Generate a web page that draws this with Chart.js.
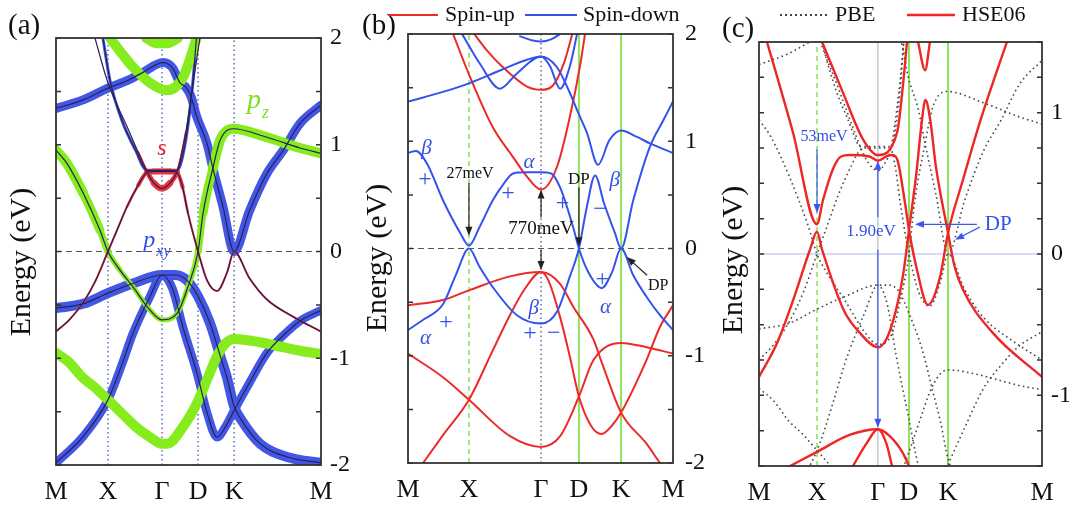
<!DOCTYPE html>
<html>
<head>
<meta charset="utf-8">
<title>Band structures</title>
<script src="https://cdn.jsdelivr.net/npm/chart.js@4.4.1/dist/chart.umd.min.js"></script>
<style>
  html, body { margin: 0; padding: 0; background: #ffffff; overflow: hidden; }
  canvas { position: absolute; top: 0; }
</style>
</head>
<body>
<canvas id="bandsA" width="355" height="505" style="left:0px"></canvas>
<canvas id="bandsB" width="355" height="505" style="left:355px"></canvas>
<canvas id="bandsC" width="359" height="505" style="left:710px"></canvas>
<script>
// k-path labels and where each high-symmetry point sits on the three axes
const kLabels = ['M', 'X', 'Γ', 'D', 'K', 'M'];
const kNodesA = [0, 0.196, 0.40, 0.536, 0.672, 1];
const kNodesB = [0, 0.23, 0.502, 0.645, 0.804, 1];
const kNodesC = [0, 0.205, 0.42, 0.53, 0.668, 1];
const yLabelsAB = [-2, -1, 0, 1, 2];
const yLabelsC = [-1, 0, 1];

// PBE bands, [k, E(eV), orbital weight] on the (a) k-axis
const pbePzLow = [[0,-0.95],[0.05,-1.04],[0.10,-1.18],[0.15,-1.28],[0.196,-1.39],[0.25,-1.52],[0.30,-1.64],[0.355,-1.74],[0.40,-1.80],[0.42,-1.80],[0.48,-1.64],[0.536,-1.40],[0.575,-1.17],[0.608,-0.98],[0.64,-0.86],[0.672,-0.82],[0.77,-0.85],[0.845,-0.89],[0.92,-0.93],[1,-0.96]];
const pbePzUp = [[0,0.95,1],[0.04,0.83,1],[0.102,0.55,1],[0.166,0.2,0.8],[0.196,0,0.6],[0.24,-0.17,0.5],[0.29,-0.33,0.5],[0.355,-0.55,0.5],[0.40,-0.64,0.5],[0.457,-0.58,0.5],[0.498,-0.33,0.5],[0.536,0,0.6],[0.555,0.36,0.8],[0.592,0.78,1],[0.619,1.04,1],[0.668,1.15,1],[0.796,1.07,1],[0.921,0.97,1],[1,0.92,1]];
const pbeSBand = [[0.147,2,0],[0.196,1.58,0],[0.268,1.17,0],[0.31,0.93,0.1],[0.343,0.75,0.4],[0.37,0.64,0.6],[0.40,0.59,0.7],[0.43,0.64,0.6],[0.457,0.75,0.4],[0.49,1.12,0],[0.52,1.62,0],[0.543,2,0]];
const pbeDirac = [[0,-0.75,0.2],[0.05,-0.64,0.2],[0.102,-0.48,0.2],[0.15,-0.27,0.2],[0.196,0,0.2],[0.232,0.21,0.2],[0.268,0.42,0.2],[0.31,0.62,0.3],[0.343,0.74,0.5],[0.37,0.75,0.6],[0.40,0.75,0.6],[0.43,0.75,0.6],[0.457,0.74,0.5],[0.478,0.6,0.3],[0.498,0.36,0.2],[0.536,0,0.2],[0.57,-0.27,0.2],[0.608,-0.37,0.2],[0.645,-0.2,0.2],[0.672,0,0.2],[0.73,-0.25,0.2],[0.796,-0.45,0.2],[0.894,-0.61,0.2],[1,-0.75,0.2]];
const pbeFlat = [[0.177,2,0.3],[0.204,1.6,0.3],[0.25,1.22,0.3],[0.30,0.95,0.3],[0.343,0.76,0.3],[0.40,0.76,0.3],[0.457,0.76,0.3],[0.49,1.05,0.3],[0.515,1.55,0.3],[0.53,2,0.3]];
const pbePxyTop = [[0,1.34],[0.102,1.42],[0.196,1.53],[0.268,1.6],[0.33,1.68],[0.404,1.77],[0.44,1.72],[0.468,1.58],[0.49,1.54],[0.51,1.45],[0.53,1.27],[0.57,1.01],[0.592,0.78],[0.63,0.42],[0.672,0],[0.73,0.38],[0.796,0.73],[0.858,0.95],[0.921,1.2],[1,1.37]];
const pbePzTop = [[0.204,2],[0.25,1.85],[0.29,1.73],[0.355,1.58],[0.419,1.51],[0.479,1.63],[0.517,1.89],[0.53,2]];
const pbePzCap = [[0.34,2],[0.38,1.95],[0.42,1.95],[0.46,2]];
const pbePxyA = [[0,-0.53],[0.102,-0.49],[0.196,-0.39],[0.29,-0.30],[0.40,-0.22],[0.45,-0.22],[0.494,-0.27],[0.536,-0.42],[0.581,-0.67],[0.62,-0.98],[0.645,-1.18],[0.672,-1.45],[0.70,-1.58],[0.77,-1.8],[0.88,-1.93],[1,-1.98]];
const pbePxyB = [[0,-1.98],[0.10,-1.74],[0.196,-1.39],[0.25,-1.05],[0.29,-0.77],[0.355,-0.42],[0.40,-0.22],[0.44,-0.35],[0.479,-0.71],[0.532,-1.14],[0.57,-1.51],[0.608,-1.74],[0.64,-1.64],[0.672,-1.49],[0.73,-1.23],[0.796,-0.95],[0.86,-0.78],[0.921,-0.65],[1,-0.55]];

// spin-polarised bands, [k, E] on the (b) k-axis
const upBand1 = [[0.17,2],[0.234,1.6],[0.32,1.13],[0.397,0.85],[0.449,0.67],[0.502,0.55],[0.562,0.76],[0.611,1.23],[0.649,1.7],[0.668,2]];
const upBand2 = [[0.25,2],[0.30,1.84],[0.358,1.69],[0.449,1.51],[0.502,1.48],[0.547,1.52],[0.59,1.74],[0.62,2]];
const upBand3 = [[0,-0.53],[0.132,-0.48],[0.23,-0.39],[0.385,-0.26],[0.502,-0.22],[0.53,-0.3],[0.574,-0.64],[0.61,-1.0],[0.645,-1.38],[0.69,-1.65],[0.731,-1.73],[0.77,-1.65],[0.804,-1.53],[0.90,-1.04],[0.951,-0.73],[1,-0.53]];
const upBand4 = [[0,-2.2],[0.057,-2],[0.132,-1.74],[0.23,-1.41],[0.32,-0.95],[0.385,-0.62],[0.44,-0.38],[0.502,-0.22],[0.574,-0.33],[0.623,-0.54],[0.70,-0.85],[0.728,-1.04],[0.804,-1.53],[0.90,-1.82],[0.951,-2.0],[1,-2.15]];
const upBand5 = [[0,-0.98],[0.132,-1.2],[0.23,-1.41],[0.385,-1.75],[0.502,-1.85],[0.574,-1.75],[0.645,-1.38],[0.70,-1.04],[0.804,-0.88],[0.90,-0.92],[1,-0.98]];
const dnBand1 = [[0,0.89],[0.03,0.91],[0.072,0.79],[0.132,0.45],[0.196,0.15],[0.23,0.027],[0.27,0.2],[0.32,0.45],[0.36,0.6],[0.397,0.7],[0.45,0.71],[0.50,0.71],[0.54,0.70],[0.574,0.57],[0.623,0.2],[0.645,0],[0.68,-0.22],[0.731,-0.37],[0.77,-0.22],[0.804,0],[0.85,-0.25],[0.90,-0.45],[0.95,-0.62],[1,-0.76]];
const dnBand2 = [[0,-0.76],[0.06,-0.66],[0.132,-0.52],[0.18,-0.25],[0.23,0],[0.27,-0.17],[0.32,-0.36],[0.41,-0.62],[0.502,-0.70],[0.562,-0.59],[0.611,-0.26],[0.645,0],[0.675,0.39],[0.706,0.68],[0.74,0.42],[0.78,0.15],[0.804,0],[0.85,0.45],[0.913,0.95],[0.96,1.18],[1,1.37]];
const dnBand3 = [[0,1.37],[0.132,1.46],[0.23,1.54],[0.347,1.66],[0.449,1.76],[0.502,1.79],[0.562,1.69],[0.611,1.45],[0.638,1.29],[0.675,1.08],[0.717,0.78],[0.76,1.01],[0.804,1.1],[0.864,1.04],[0.913,0.98],[1,0.89]];
const dnBand4 = [[0.204,2],[0.272,1.72],[0.347,1.49],[0.41,1.63],[0.502,1.79],[0.536,1.70],[0.574,1.49],[0.611,1.70],[0.638,2]];
const dnBand5 = [[0.42,1.98],[0.47,1.94],[0.502,1.93],[0.54,1.95],[0.575,2]];

// HSE06 bands, [k, E] on the (c) k-axis
const hseBand1 = [[0,-0.87],[0.064,-0.63],[0.12,-0.33],[0.18,0.03],[0.205,0.157],[0.223,0.03],[0.30,-0.40],[0.357,-0.56],[0.42,-0.66],[0.463,-0.54],[0.509,-0.15],[0.53,0.17],[0.556,0.57],[0.576,0.95],[0.588,1.09],[0.605,0.95],[0.625,0.62],[0.668,0.15],[0.69,-0.08],[0.72,-0.25],[0.827,-0.56],[1,-0.87]];
const hseBand2 = [[0.005,1.66],[0.12,0.86],[0.205,0.21],[0.226,0.38],[0.261,0.6],[0.29,0.69],[0.32,0.70],[0.39,0.69],[0.42,0.66],[0.45,0.69],[0.47,0.70],[0.488,0.67],[0.516,0.36],[0.53,0.17],[0.558,-0.11],[0.597,-0.36],[0.64,-0.16],[0.668,0.15],[0.72,0.52],[0.78,0.93],[0.9,1.64]];
const hseBand3 = [[0.223,1.5],[0.297,1.14],[0.368,0.81],[0.42,0.70],[0.488,0.86],[0.509,1.2],[0.523,1.5]];
const hseBand4 = [[0.562,1.5],[0.587,1.3],[0.604,1.5]];
const hseBand5 = [[0.11,-1.5],[0.205,-1.4],[0.32,-1.28],[0.42,-1.24],[0.463,-1.29],[0.509,-1.41],[0.53,-1.5]];
const hseBand6 = [[0.332,-1.5],[0.38,-1.34],[0.42,-1.24],[0.45,-1.34],[0.47,-1.5]];

const SERIF = "'Liberation Serif', 'Times New Roman', Times, serif";
Chart.defaults.font.family = SERIF;
Chart.defaults.color = '#111';

const C_BLUE_FAT = '#4257e4';
const C_GREEN_FAT = '#86ec1e';
const C_RED_FAT = '#e8323a';
const C_THIN = '#2b2058';
const C_UP = '#ec2a2a';
const C_DOWN = '#3553ec';
const C_GREEN_LINE = '#8fe35c';
const C_PBE = '#4a4a4a';
const C_NOTE_BLUE = '#3450e6';

// piecewise-linear move from one k-axis to another (same path, other spacing)
function remap(k, from, to) {
  for (let i = 1; i < from.length; i++) {
    if (k <= from[i] || i === from.length - 1) {
      const f = (k - from[i - 1]) / (from[i] - from[i - 1]);
      return to[i - 1] + f * (to[i] - to[i - 1]);
    }
  }
}

function pts(band, from, to) {
  return band.map(p => ({ x: from ? remap(p[0], from, to) : p[0], y: p[1] }));
}

function curve(data, color, width, order, extra) {
  return Object.assign({ data, borderColor: color, borderWidth: width, order, clip: 0, pointRadius: 0 }, extra || {});
}

// fat band: line width follows the orbital weight stored with each point
function fat(band, color, scale, order) {
  const w = band.map(p => (p.length > 2 ? p[2] : 1) * scale);
  const seg = c => (w[c.p0DataIndex] + w[c.p1DataIndex]) / 2;
  return curve(pts(band), color, 10 * scale, order, {
    borderCapStyle: 'round',
    borderJoinStyle: 'round',
    segment: {
      borderWidth: c => Math.max(1, seg(c) * 10),
      borderColor: c => (seg(c) > 0.05 ? color : 'rgba(0,0,0,0)')
    }
  });
}

function guide(k, yMin, yMax, st) {
  return curve([{ x: k, y: yMin }, { x: k, y: yMax }], st.color, st.width, 20, { borderDash: st.dash || [], tension: 0, cubicInterpolationMode: 'default' });
}

function zeroLine(st) {
  return curve([{ x: 0, y: 0 }, { x: 1, y: 0 }], st.color, st.width, 19, { borderDash: st.dash || [], tension: 0, cubicInterpolationMode: 'default' });
}

function arrow(ctx, x1, y1, x2, y2, color) {
  const ang = Math.atan2(y2 - y1, x2 - x1), len = 9, half = 3.5;
  ctx.strokeStyle = color;
  ctx.fillStyle = color;
  ctx.lineWidth = 1.2;
  ctx.setLineDash([]);
  ctx.beginPath();
  ctx.moveTo(x1, y1);
  ctx.lineTo(x2 - Math.cos(ang) * len * 0.8, y2 - Math.sin(ang) * len * 0.8);
  ctx.stroke();
  ctx.beginPath();
  ctx.moveTo(x2, y2);
  ctx.lineTo(x2 - len * Math.cos(ang) + half * Math.sin(ang), y2 - len * Math.sin(ang) - half * Math.cos(ang));
  ctx.lineTo(x2 - len * Math.cos(ang) - half * Math.sin(ang), y2 - len * Math.sin(ang) + half * Math.cos(ang));
  ctx.closePath();
  ctx.fill();
}

function label(ctx, n, x, y) {
  ctx.fillStyle = n.color || C_NOTE_BLUE;
  const size = n.size || 21;
  ctx.font = (n.italic ? 'italic ' : '') + size + 'px ' + SERIF;
  ctx.textAlign = n.align || 'center';
  ctx.textBaseline = 'middle';
  ctx.fillText(n.t, x, y);
  if (n.sub) {
    const w = ctx.measureText(n.t).width;
    ctx.font = 'italic ' + Math.round(size * 0.65) + 'px ' + SERIF;
    ctx.textAlign = 'left';
    ctx.fillText(n.sub, x + w / 2 + 1, y + size * 0.45);
  }
}

function makeDeco(cfg) {
  return {
    id: 'deco',
    afterDatasetsDraw(chart) {
      const { ctx, chartArea: a } = chart;
      const sx = chart.scales.x, sy = chart.scales.y;
      const px = k => sx.getPixelForValue(k);
      const py = e => sy.getPixelForValue(e);
      ctx.save();
      // inward tick marks on both frame sides
      ctx.strokeStyle = '#333';
      ctx.lineWidth = 1.5;
      ctx.beginPath();
      sy.ticks.forEach(t => {
        const y = py(t.value);
        ctx.moveTo(a.left, y); ctx.lineTo(a.left + 5, y);
        ctx.moveTo(a.right, y); ctx.lineTo(a.right - 5, y);
      });
      ctx.stroke();
      ctx.lineWidth = 1.8;
      ctx.strokeRect(a.left, a.top, a.right - a.left, a.bottom - a.top);

      (cfg.arrows || []).forEach(r => arrow(ctx, px(r[0]), py(r[1]), px(r[2]), py(r[3]), cfg.arrowColor));
      (cfg.notes || []).forEach(n => label(ctx, n, px(n.k), py(n.e)));

      // rotated energy title on the left
      ctx.save();
      ctx.translate(cfg.titleX, cfg.titleY);
      ctx.rotate(-Math.PI / 2);
      label(ctx, { t: 'Energy (eV)', size: 30, color: '#111' }, 0, 0);
      ctx.restore();

      // panel letter and legend above the frame
      label(ctx, { t: cfg.tag, size: 29, color: '#111', align: 'left' }, cfg.tagX, cfg.tagY);
      (cfg.legend || []).forEach(l => {
        ctx.strokeStyle = l.color;
        ctx.lineWidth = l.width;
        ctx.setLineDash(l.dash || []);
        ctx.beginPath();
        ctx.moveTo(l.x1, l.y); ctx.lineTo(l.x2, l.y);
        ctx.stroke();
        ctx.setLineDash([]);
        label(ctx, { t: l.text, size: 22, color: '#111', align: 'left' }, l.lx, l.y);
      });
      ctx.restore();
    }
  };
}

function buildPanel(id, p) {
  return new Chart(document.getElementById(id), {
    type: 'line',
    data: { datasets: p.datasets },
    options: {
      responsive: false,
      animation: false,
      events: [],
      layout: { padding: { top: p.top, left: p.leftW, right: 0, bottom: 0 } },
      elements: { point: { radius: 0 }, line: { cubicInterpolationMode: 'monotone', fill: false } },
      plugins: { legend: { display: false }, tooltip: { enabled: false } },
      scales: {
        x: {
          type: 'linear', min: 0, max: 1,
          afterBuildTicks: s => { s.ticks = p.nodes.map(v => ({ value: v })); },
          afterFit: s => { s.height = p.bottom; },
          grid: { display: false, drawTicks: false },
          border: { display: false },
          ticks: { autoSkip: false, maxRotation: 0, padding: 12, color: '#111', font: { size: 26 }, callback: (v, i) => kLabels[i] }
        },
        y: {
          type: 'linear', position: 'right', min: p.yMin, max: p.yMax,
          afterFit: s => { s.width = p.rightW; },
          grid: { display: false, drawTicks: false },
          border: { display: false },
          ticks: {
            stepSize: p.yStep, maxTicksLimit: 20, padding: p.labelPad, color: '#111', font: { size: 24 },
            callback: v => (p.yLabels.includes(v) ? String(v) : '')
          }
        }
      }
    },
    plugins: [makeDeco(p.deco)]
  });
}

// ---- (a) orbital-projected PBE bands
const navyDots = { color: '#3a46a8', width: 1.2, dash: [1.5, 3] };
const dashedZero = { color: '#555', width: 1.2, dash: [6, 4] };
const datasetsA = [
  ...kNodesA.slice(1, 5).map(k => guide(k, -2, 2, navyDots)),
  zeroLine(dashedZero),
  fat(pbePxyA, C_BLUE_FAT, 1, 9),
  fat(pbePxyB, C_BLUE_FAT, 0.85, 9),
  fat(pbePxyTop, C_BLUE_FAT, 0.9, 9),
  fat(pbeFlat, C_BLUE_FAT, 1, 9),
  fat(pbePzLow, C_GREEN_FAT, 1, 8),
  fat(pbePzUp, C_GREEN_FAT, 1, 8),
  fat(pbePzTop, C_GREEN_FAT, 1, 8),
  fat(pbePzCap, C_GREEN_FAT, 1, 8),
  fat(pbeDirac, C_RED_FAT, 1, 7),
  fat(pbeSBand, C_RED_FAT, 1, 7),
  ...[pbePxyA, pbePxyB, pbePxyTop, pbeFlat, pbePzUp, pbeDirac, pbeSBand].map(b => curve(pts(b), C_THIN, 1.2, 2))
];

buildPanel('bandsA', {
  nodes: kNodesA, yMin: -2, yMax: 2, yStep: 0.5, yLabels: yLabelsAB,
  top: 38, bottom: 40, leftW: 56, rightW: 34, labelPad: 9,
  datasets: datasetsA,
  deco: {
    tag: '(a)', tagX: 8, tagY: 26, titleX: 22, titleY: 262,
    notes: [
      { t: 'p', sub: 'z', k: 0.747, e: 1.41, size: 28, color: '#7fe02a', italic: true },
      { t: 's', k: 0.40, e: 0.96, size: 24, color: '#e62424', italic: true },
      { t: 'p', sub: 'xy', k: 0.352, e: 0.10, size: 24, color: C_NOTE_BLUE, italic: true }
    ]
  }
});

// ---- (b) spin-up / spin-down bands
const greenDash = { color: C_GREEN_LINE, width: 1.6, dash: [5, 4] };
const greenSolid = { color: C_GREEN_LINE, width: 2 };
const greyDots = { color: '#555570', width: 1.3, dash: [1.5, 3] };
const datasetsB = [
  guide(kNodesB[1], -2, 2, greenDash),
  guide(kNodesB[2], -2, 2, greyDots),
  guide(kNodesB[3], -2, 2, greenSolid),
  guide(kNodesB[4], -2, 2, greenSolid),
  zeroLine(dashedZero),
  ...[upBand1, upBand2, upBand3, upBand4, upBand5].map(b => curve(pts(b), C_UP, 2, 4)),
  ...[dnBand1, dnBand2, dnBand3, dnBand4, dnBand5].map(b => curve(pts(b), C_DOWN, 2, 3))
];

buildPanel('bandsB', {
  nodes: kNodesB, yMin: -2, yMax: 2, yStep: 0.5, yLabels: yLabelsAB,
  top: 34, bottom: 42, leftW: 53, rightW: 37, labelPad: 12,
  datasets: datasetsB,
  deco: {
    tag: '(b)', tagX: 7, tagY: 26, titleX: 23, titleY: 258,
    arrowColor: '#222',
    arrows: [
      [0.23, 0.61, 0.23, 0.12],
      [0.502, 0.29, 0.502, 0.55],
      [0.502, -0.01, 0.502, -0.2],
      [0.645, 0.57, 0.645, 0.02],
      [0.902, -0.25, 0.826, -0.08]
    ],
    notes: [
      { t: 'β', k: 0.07, e: 0.93, italic: true },
      { t: '+', k: 0.064, e: 0.64, size: 24 },
      { t: '27meV', k: 0.234, e: 0.70, size: 16, color: '#111' },
      { t: '+', k: 0.377, e: 0.51, size: 24 },
      { t: 'α', k: 0.457, e: 0.80, italic: true },
      { t: '770meV', k: 0.502, e: 0.18, size: 19, color: '#111' },
      { t: 'DP', k: 0.645, e: 0.64, size: 17, color: '#111' },
      { t: '+', k: 0.583, e: 0.42, size: 24 },
      { t: 'β', k: 0.78, e: 0.63, italic: true },
      { t: '−', k: 0.725, e: 0.36, size: 24 },
      { t: '+', k: 0.733, e: -0.29, size: 24 },
      { t: 'α', k: 0.745, e: -0.55, italic: true },
      { t: 'DP', k: 0.944, e: -0.35, size: 16, color: '#111' },
      { t: 'β', k: 0.474, e: -0.56, italic: true },
      { t: '+', k: 0.46, e: -0.79, size: 24 },
      { t: '−', k: 0.55, e: -0.79, size: 24 },
      { t: '+', k: 0.143, e: -0.69, size: 24 },
      { t: 'α', k: 0.066, e: -0.84, italic: true }
    ],
    legend: [
      { x1: 33, x2: 83, y: 15, color: C_UP, width: 2, text: 'Spin-up', lx: 90 },
      { x1: 170, x2: 222, y: 15, color: C_DOWN, width: 2, text: 'Spin-down', lx: 228 }
    ]
  }
});

// ---- (c) PBE (dotted) against HSE06
const pbeAll = [pbePzLow, pbePzUp, pbeSBand, pbeDirac, pbeFlat, pbePxyTop, pbePzTop, pbePxyA, pbePxyB];
const datasetsC = [
  guide(kNodesC[1], -1.5, 1.5, greenDash),
  guide(kNodesC[2], -1.5, 1.5, { color: '#c9c9c9', width: 1.5 }),
  guide(kNodesC[3], -1.5, 1.5, greenSolid),
  guide(kNodesC[4], -1.5, 1.5, greenSolid),
  zeroLine({ color: '#a9b8f0', width: 1 }),
  ...pbeAll.map(b => curve(pts(b, kNodesA, kNodesC), C_PBE, 1.6, 5, { borderDash: [1.6, 3.2] })),
  ...[hseBand1, hseBand2, hseBand3, hseBand4, hseBand5, hseBand6].map(b => curve(pts(b), '#ee2626', 2.4, 1))
];

buildPanel('bandsC', {
  nodes: kNodesC, yMin: -1.5, yMax: 1.5, yStep: 0.25, yLabels: yLabelsC,
  top: 42, bottom: 39, leftW: 49, rightW: 27, labelPad: 9,
  datasets: datasetsC,
  deco: {
    tag: '(c)', tagX: 12, tagY: 29, titleX: 24, titleY: 260,
    arrowColor: '#3a58f0',
    arrows: [
      [0.205, 0.74, 0.205, 0.29],
      [0.42, 0.26, 0.42, 0.66],
      [0.42, 0.03, 0.42, -1.23],
      [0.77, 0.21, 0.551, 0.21],
      [0.78, 0.19, 0.693, 0.10]
    ],
    notes: [
      { t: '53meV', k: 0.23, e: 0.83, size: 16 },
      { t: '1.90eV', k: 0.396, e: 0.16, size: 17 },
      { t: 'DP', k: 0.845, e: 0.21, size: 21 }
    ],
    legend: [
      { x1: 70, x2: 120, y: 15, color: '#444', width: 1.8, dash: [2, 3], text: 'PBE', lx: 125 },
      { x1: 197, x2: 245, y: 15, color: '#ee2626', width: 2.5, text: 'HSE06', lx: 252 }
    ]
  }
});
</script>
</body>
</html>
